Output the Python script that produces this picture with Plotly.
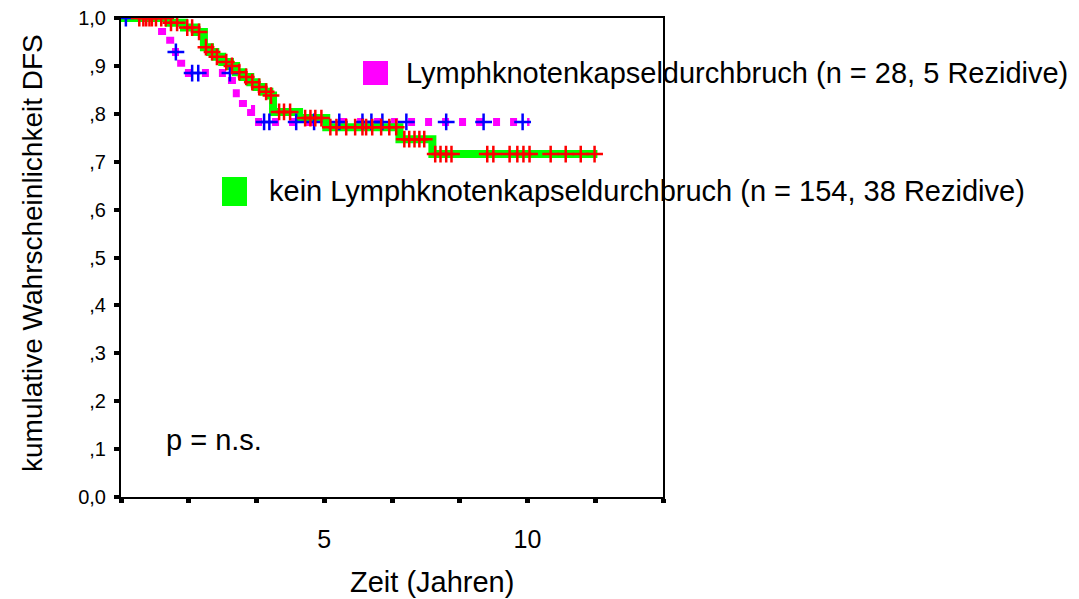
import numpy as np
import plotly.graph_objects as go

# Kaplan-Meier step curves (time in years, cumulative DFS probability)
kein_times = [0, 1.18, 1.55, 1.85, 2.04, 2.19, 2.32, 2.49, 2.68, 2.83, 3.0, 3.18,
              3.33, 3.5, 3.65, 3.74, 4.38, 5.05, 6.85, 7.66]
kein_levels = [1.0, 0.99, 0.98, 0.971, 0.939, 0.929, 0.919, 0.908, 0.9, 0.887, 0.877,
               0.866, 0.856, 0.846, 0.838, 0.804, 0.791, 0.772, 0.747, 0.716]
kein_end = 11.72
kein_censored = [0.45, 0.55, 0.62, 0.7, 0.76, 0.86, 0.99, 1.1, 1.23, 1.38, 1.63, 1.75,
                 1.92, 2.09, 2.24, 2.36, 2.59, 2.73, 2.91, 3.08, 3.23, 3.4, 3.57, 3.69,
                 3.89, 4.01, 4.16, 4.53, 4.66, 4.78, 4.93, 5.15, 5.3, 5.54, 5.76, 5.94,
                 6.03, 6.18, 6.4, 6.6, 6.77, 6.97, 7.09, 7.22, 7.34, 7.46, 7.73, 7.86,
                 8.0, 8.13, 9.01, 9.16, 9.56, 9.75, 9.9, 10.05, 10.57, 10.94, 11.31, 11.65]

kapsel_times = [0, 1.01, 1.21, 1.48, 2.73, 3.0, 3.2]
kapsel_levels = [1.0, 0.964, 0.929, 0.885, 0.843, 0.81, 0.783]
kapsel_end = 10.05
kapsel_censored = [0.12, 1.35, 1.75, 1.9, 2.68, 3.52, 3.65, 4.31, 4.75, 5.37, 5.94,
                   6.16, 6.43, 7.02, 8.0, 8.92, 9.88]

x_tick_vals = [0, 5 / 3, 10 / 3, 5, 20 / 3, 25 / 3, 10, 35 / 3, 40 / 3]
x_tick_text = ["", "", "", "5", "", "", "10", "", ""]
y_tick_vals = [0, 0.1, 0.2, 0.3, 0.4, 0.5, 0.6, 0.7, 0.8, 0.9, 1.0]
y_tick_text = ["0,0", ",1", ",2", ",3", ",4", ",5", ",6", ",7", ",8", ",9", "1,0"]

legend_kapsel = "Lymphknotenkapseldurchbruch (n = 28, 5 Rezidive)"
legend_kein = "kein Lymphknotenkapseldurchbruch (n = 154, 38 Rezidive)"

FONT = "Liberation Sans, Arial, sans-serif"


def step_xy(times, levels, end):
    xs = list(times) + [end]
    ys = list(levels) + [levels[-1]]
    return xs, ys


def level_at(times, levels, t):
    idx = np.searchsorted(np.asarray(times), np.asarray(t), side="right") - 1
    return np.asarray(levels)[idx]


fig = go.Figure()

kx, ky = step_xy(kapsel_times, kapsel_levels, kapsel_end)
fig.add_trace(go.Scatter(x=kx, y=ky, mode="lines", line_shape="hv",
                         line=dict(color="#ff00ff", width=8, dash="7px,10px"),
                         hoverinfo="skip"))

gx, gy = step_xy(kein_times, kein_levels, kein_end)
fig.add_trace(go.Scatter(x=gx, y=gy, mode="lines", line_shape="hv",
                         line=dict(color="#00ff00", width=8),
                         hoverinfo="skip"))

fig.add_trace(go.Scatter(x=kapsel_censored,
                         y=level_at(kapsel_times, kapsel_levels, kapsel_censored),
                         mode="markers",
                         marker=dict(symbol="cross-thin", size=12,
                                     line=dict(color="#0000ff", width=2.5)),
                         hoverinfo="skip"))

fig.add_trace(go.Scatter(x=kein_censored,
                         y=level_at(kein_times, kein_levels, kein_censored),
                         mode="markers",
                         marker=dict(symbol="cross-thin", size=12,
                                     line=dict(color="#ff0000", width=2.5)),
                         hoverinfo="skip"))

# legend squares and labels
fig.add_shape(type="rect", xref="paper", yref="paper",
              x0=(363 - 121) / 542, x1=(388 - 121) / 542,
              y0=(497 - 85) / 479, y1=(497 - 61) / 479,
              fillcolor="#ff00ff", line=dict(width=0))
fig.add_shape(type="rect", xref="paper", yref="paper",
              x0=(222 - 121) / 542, x1=(247 - 121) / 542,
              y0=(497 - 206) / 479, y1=(497 - 177) / 479,
              fillcolor="#00ff00", line=dict(width=0))

text_font = dict(family=FONT, size=29, color="#000000")
fig.add_annotation(xref="paper", yref="paper", x=(404 - 121) / 542, y=(497 - 73) / 479,
                   xanchor="left", yanchor="middle", text=legend_kapsel,
                   showarrow=False, font=text_font)
fig.add_annotation(xref="paper", yref="paper", x=(267 - 121) / 542, y=(497 - 191) / 479,
                   xanchor="left", yanchor="middle", text=legend_kein,
                   showarrow=False, font=text_font)
fig.add_annotation(xref="paper", yref="paper", x=(164 - 121) / 542, y=(497 - 440) / 479,
                   xanchor="left", yanchor="middle", text="p = n.s.",
                   showarrow=False, font=text_font)

# axis titles
fig.add_annotation(xref="paper", yref="paper", x=(432 - 121) / 542, y=(497 - 582) / 479,
                   xanchor="center", yanchor="middle", text="Zeit (Jahren)",
                   showarrow=False, font=text_font)
fig.add_annotation(xref="paper", yref="paper", x=(33 - 121) / 542, y=(497 - 253) / 479,
                   xanchor="center", yanchor="middle", text="kumulative Wahrscheinlichkeit DFS",
                   textangle=-90, showarrow=False,
                   font=dict(family=FONT, size=28, color="#000000"))

fig.update_xaxes(range=[0, 40 / 3], tickmode="array", tickvals=x_tick_vals,
                 ticktext=x_tick_text, showgrid=False, zeroline=False,
                 showline=True, linecolor="#000000", linewidth=2, mirror=True,
                 ticks="outside", ticklen=4, tickwidth=5, tickcolor="#000000",
                 ticklabelstandoff=15,
                 tickfont=dict(family=FONT, size=25, color="#000000"))
fig.update_yaxes(range=[0, 1.0], tickmode="array", tickvals=y_tick_vals,
                 ticktext=y_tick_text, showgrid=False, zeroline=False,
                 showline=True, linecolor="#000000", linewidth=2, mirror=True,
                 ticks="outside", ticklen=5, tickwidth=4, tickcolor="#000000",
                 ticklabelstandoff=4,
                 tickfont=dict(family=FONT, size=20, color="#000000"))

fig.update_layout(width=1079, height=599, showlegend=False,
                  margin=dict(l=121, r=416, t=18, b=102, autoexpand=False),
                  paper_bgcolor="#ffffff", plot_bgcolor="#ffffff")

fig.write_html("out.html")
